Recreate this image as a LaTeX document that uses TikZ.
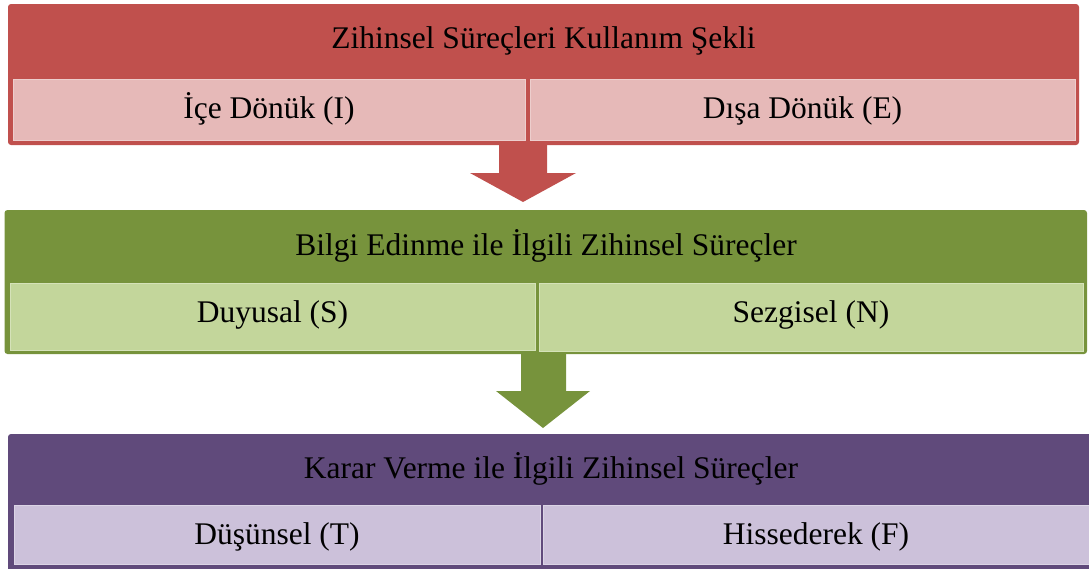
\documentclass[tikz,border=0pt]{standalone}
\usepackage{fontspec}
\setmainfont{Liberation Serif}
\definecolor{rdark}{HTML}{C0504D}
\definecolor{rlight}{HTML}{E6B9B8}
\definecolor{gdark}{HTML}{77933C}
\definecolor{glight}{HTML}{C3D69B}
\definecolor{pdark}{HTML}{604A7B}
\definecolor{plight}{HTML}{CCC1DA}
\begin{document}
\begin{tikzpicture}[x=1pt,y=-1pt,
  lbl/.style={anchor=base,inner sep=0pt,font=\fontsize{31.5}{36}\selectfont,text=black},
  band/.style={rounded corners=3pt},
  subbox/.style={line width=0.8pt}]
\useasboundingbox (0,0) rectangle (1089,568);
\begin{scope}
\clip (0,0) rectangle (1089,568);
% red band
\fill[band,rdark] (8,4) rectangle (1079,145);
\filldraw[subbox,fill=rlight,draw=rlight!70!white] (13.5,79.5) rectangle (525,140);
\filldraw[subbox,fill=rlight,draw=rlight!70!white] (530,79.5) rectangle (1075,140);
\node[lbl] (rh) at (543.5,48) {Zihinsel Süreçleri Kullanım Şekli};
\node[lbl] (r1) at (269,118) {İçe Dönük (I)};
\node[lbl] (r2) at (802.5,118) {Dışa Dönük (E)};
% red arrow
\fill[rdark] (499,144) -- (547,144) -- (547,173) -- (576,173) -- (523,202) -- (470,173) -- (499,173) -- cycle;
% green band
\fill[band,gdark] (4.5,210) rectangle (1087,354);
\filldraw[subbox,fill=glight,draw=glight!70!white] (10,283.5) rectangle (535,350);
\filldraw[subbox,fill=glight,draw=glight!70!white] (539,283.5) rectangle (1083,351);
\node[lbl] (gh) at (546,255) {Bilgi Edinme ile İlgili Zihinsel Süreçler};
\node[lbl] (g1) at (272.5,322) {Duyusal (S)};
\node[lbl] (g2) at (811,322) {Sezgisel (N)};
% green arrow
\fill[gdark] (521,353) -- (566,353) -- (566,391) -- (590,391) -- (543,428) -- (496,391) -- (521,391) -- cycle;
% purple band
\fill[band,pdark] (8,434) rectangle (1097,575);
\filldraw[subbox,fill=plight,draw=plight!70!white] (14,505.5) rectangle (540,564);
\filldraw[subbox,fill=plight,draw=plight!70!white] (543,505.5) rectangle (1093,564);
\node[lbl] (ph) at (551,478) {Karar Verme ile İlgili Zihinsel Süreçler};
\node[lbl] (p1) at (277,544) {Düşünsel (T)};
\node[lbl] (p2) at (816,544) {Hissederek (F)};
\end{scope}
\end{tikzpicture}
\end{document}
